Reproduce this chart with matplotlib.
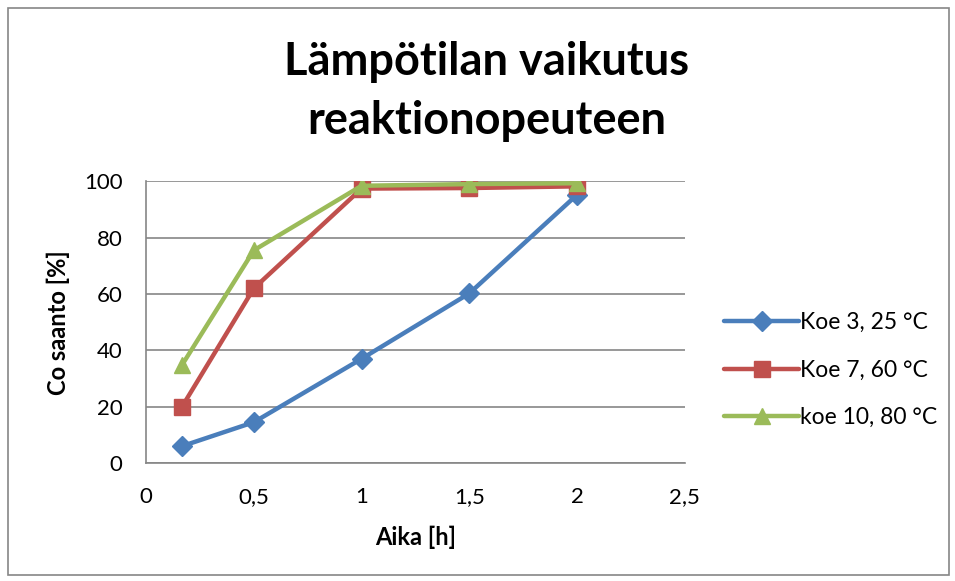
import matplotlib.pyplot as plt
from matplotlib.patches import Rectangle
from matplotlib.ticker import FuncFormatter, MultipleLocator

# Aika [h] ja Co saanto [%] jokaiselle kokeelle
aika = [1 / 6, 0.5, 1.0, 1.5, 2.0]
koe3_25 = [6.0, 14.5, 37.0, 60.2, 95.2]
koe7_60 = [20.0, 62.0, 97.4, 97.6, 98.2]
koe10_80 = [34.8, 75.5, 98.4, 99.0, 99.3]

nimet = ['Koe 3, 25 °C', 'Koe 7, 60 °C', 'koe 10, 80 °C']
varit = ['#4A7EBB', '#C0504D', '#9BBB59']
merkit = ['D', 's', '^']
koot = [10, 11, 12]

plt.rcParams['font.family'] = ['Lato', 'DejaVu Sans']

fig = plt.figure(figsize=(9.55, 5.81), dpi=100)
ax = fig.add_axes([0.153, 0.203, 0.564, 0.485])

for y, nimi, vari, m, k in zip([koe3_25, koe7_60, koe10_80], nimet, varit, merkit, koot):
    ax.plot(aika, y, color=vari, marker=m, markersize=k, linewidth=3.2,
            label=nimi, solid_capstyle='round', solid_joinstyle='round')

ax.set_xlim(0, 2.5)
ax.set_ylim(0, 100)
ax.xaxis.set_major_locator(MultipleLocator(0.5))
ax.yaxis.set_major_locator(MultipleLocator(20))
ax.xaxis.set_major_formatter(FuncFormatter(lambda v, p: f'{v:g}'.replace('.', ',')))
ax.grid(axis='y', color='#868686', linewidth=1.2)
ax.set_axisbelow(True)
for s in ['top', 'right']:
    ax.spines[s].set_visible(False)
for s in ['left', 'bottom']:
    ax.spines[s].set_color('#868686')
    ax.spines[s].set_linewidth(1.2)
ax.tick_params(axis='both', labelcolor='black', labelsize=16, length=0)
ax.tick_params(axis='x', pad=17)
ax.tick_params(axis='y', pad=17)

ax.set_xlabel('Aika [h]', fontsize=17, fontweight='bold', labelpad=14)
ax.set_ylabel('Co saanto [%]', fontsize=17, fontweight='bold', labelpad=10)

fig.text(0.51, 0.842, 'Lämpötilan vaikutus\nreaktionopeuteen', ha='center', va='center',
         fontsize=32.5, fontweight='bold', linespacing=1.5)

ax.legend(loc='center left', bbox_to_anchor=(1.0, 0.33), frameon=False, fontsize=16.5,
          handlelength=3.3, handletextpad=0.05, labelspacing=1.15, borderaxespad=1.3)

# kaavioalueen reunus
fig.patches.append(Rectangle((0.008, 0.01), 0.986, 0.977, transform=fig.transFigure,
                             fill=False, edgecolor='#868686', linewidth=1.2))

fig.savefig('out.png', dpi=100)
